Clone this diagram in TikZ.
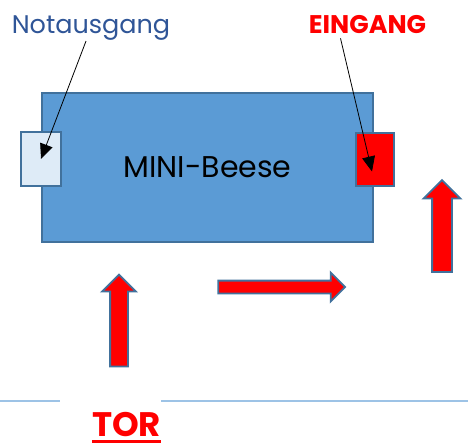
\documentclass[tikz,border=0pt]{standalone}
\usepackage{fontspec}
\setmainfont{Poppins}
\usetikzlibrary{shapes,arrows.meta,positioning}
\definecolor{boxblue}{RGB}{91,155,213}
\definecolor{rimblue}{RGB}{65,113,156}
\definecolor{paleblue}{RGB}{222,235,247}
\definecolor{textblue}{RGB}{47,85,151}
\definecolor{lineblue}{RGB}{157,195,230}

\begin{document}
\begin{tikzpicture}[x=1pt,y=-1pt]

  \tikzset{main node/.style={rectangle, draw=rimblue, line width=1.5pt,
  		fill=boxblue, text centered, font=\fontsize{30}{32}\selectfont}, }
  \tikzset{door node/.style={rectangle, draw=rimblue, line width=1.5pt}, }
  \tikzset{label node/.style={inner sep=0pt, anchor=base}, }
  \tikzset{move node/.style={single arrow, draw=rimblue, line width=1.8pt,
  		fill=red, single arrow head extend=8pt, inner sep=0pt}, }
  \tikzset{linea/.style={-{Triangle[length=15pt,width=13pt]}, thick}, }
\useasboundingbox (0,0) rectangle (468,444);
\node[main node, minimum width=331pt, minimum height=149pt] (1) at (207.5,167.5) {\raisebox{-1pt}{MINI-Beese}};
\node[door node, fill=paleblue, minimum width=40pt, minimum height=54pt] (2) at (41,159) {};
\node[door node, fill=red, minimum width=38pt, minimum height=53pt] (3) at (375,159.5) {};
\node[label node, text=textblue, font=\fontsize{25.5}{27}\selectfont] (4) at (91,34) {Notausgang};
\node[label node, text=red, font=\bfseries\fontsize{25.5}{27}\selectfont] (5) at (367.5,34) {EINGANG};
\node[label node, text=red, font=\bfseries\fontsize{34}{36}\selectfont] (6) at (126.5,436) {TOR};
\draw[red, line width=3pt] ([yshift=-5pt]6.base west) -- ([yshift=-5pt]6.base east);
\node[move node, rotate=90, minimum height=92pt, minimum width=32pt,
  single arrow head extend=8pt] (7) at (119,325) {\rule{0pt}{16pt}};
\node[move node, minimum height=127pt, minimum width=27pt,
  single arrow head extend=8pt] (8) at (278.5,287) {\rule{0pt}{11pt}};
\node[move node, rotate=90, minimum height=92pt, minimum width=35pt,
  single arrow head extend=8.5pt] (9) at (442,231) {\rule{0pt}{18pt}};
\draw[linea] ([xshift=-5pt]4.south) -- (2.center);
\draw[linea] ([xshift=-27pt,yshift=-4pt]5.south) -- ([xshift=-3pt,yshift=-12pt]3.center);
\draw[lineblue, line width=2pt] (0,401) -- (60,401) (161,401) -- (468,401);
%%
\end{tikzpicture}
\end{document}
